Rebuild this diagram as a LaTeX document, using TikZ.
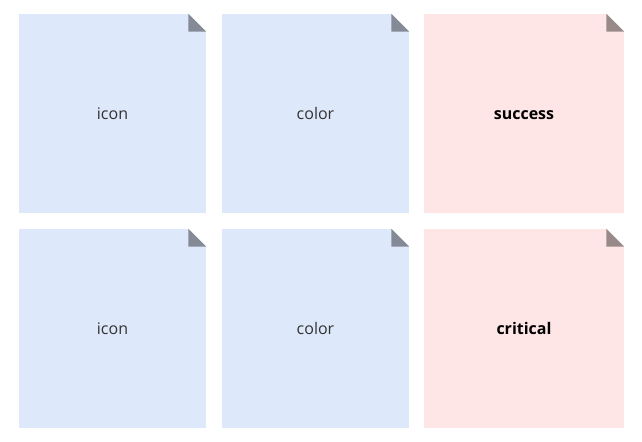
\documentclass[tikz,border=0pt]{standalone}
\usepackage{fontspec}
\setmainfont{Open Sans}
\usepackage{xcolor}
\usepackage{tikz}
\usetikzlibrary{positioning}

\definecolor{noteblue}{HTML}{DEE8FB}
\definecolor{notepink}{HTML}{FFE6E6}
\definecolor{notetext}{HTML}{333333}

\begin{document}
\begin{tikzpicture}[
  x=0.75pt, y=-0.75pt,
  note/.style={fill=noteblue, minimum width=140.25pt, minimum height=149.25pt, inner sep=0pt, text height=10pt, text depth=0.5pt, font=\fontsize{12}{14}\selectfont, text=notetext},
  state/.style={note, fill=notepink, minimum width=150pt, text=black, font=\fontsize{12}{14}\selectfont\bfseries},
  fold/.style={fill=black, fill opacity=0.4},
  cut/.style={fill=white}
]
\useasboundingbox (0,0) rectangle (642,442);

% Top row
\node[note] (icona) at (112.5,113.5) {icon};
\node[note] (colora) at (315.5,113.5) {color};
\node[state] (success) at (524,113.5) {success};

% Bottom row
\node[note] (iconb) at (112.5,328.5) {icon};
\node[note] (colorb) at (315.5,328.5) {color};
\node[state] (critical) at (524,328.5) {critical};

% Folded corners
\foreach \n in {icona,colora,success,iconb,colorb,critical}{
  \fill[cut] (\n.north east) -- ++(-18,0) -- ++(18,18) -- cycle;
  \fill[fold] (\n.north east) ++(-18,0) -- ++(0,18) -- ++(18,0) -- cycle;
}
\end{tikzpicture}
\end{document}
